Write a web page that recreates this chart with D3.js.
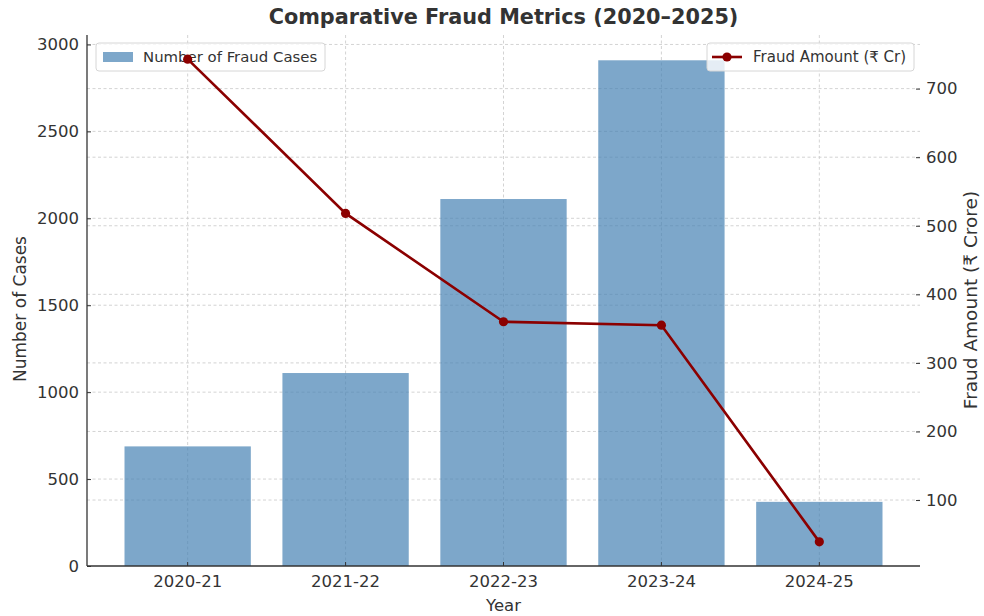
<!DOCTYPE html>
<html>
<head>
<meta charset="utf-8">
<script src="https://d3js.org/d3.v7.min.js"></script>
<style>
  body { margin: 0; background: #fff; }
  text { font-family: "DejaVu Sans", sans-serif; }
</style>
</head>
<body>
<svg id="chart" width="984" height="616"></svg>
<script>
// data
const years = ["2020-21", "2021-22", "2022-23", "2023-24", "2024-25"];
const fraudCases = [688, 1110, 2111, 2909, 369];
const fraudAmount = [743, 518, 360, 355, 39];
const caseTicks = [0, 500, 1000, 1500, 2000, 2500, 3000];
const amountTicks = [100, 200, 300, 400, 500, 600, 700];

const plotLeft = 87, plotRight = 920, plotTop = 35, plotBottom = 566;
const ink = "#333";

const svg = d3.select("#chart");

const x = d3.scaleBand()
  .domain(years)
  .range([plotLeft, plotRight])
  .paddingInner(0.2)
  .paddingOuter(0.2375);

// autoscaled like matplotlib: bars from 0 with 5% headroom, line with 5% margins
const yCases = d3.scaleLinear()
  .domain([0, d3.max(fraudCases) * 1.05])
  .range([plotBottom, plotTop]);

const amtMin = d3.min(fraudAmount), amtMax = d3.max(fraudAmount);
const amtPad = (amtMax - amtMin) * 0.05;
const yAmount = d3.scaleLinear()
  .domain([amtMin - amtPad, amtMax + amtPad])
  .range([plotBottom, plotTop]);

// grid lines (dashed, light grey)
const grid = svg.append("g")
  .attr("stroke", "#c8c8c8")
  .attr("stroke-width", 0.8)
  .attr("stroke-dasharray", "3,2.5");

grid.selectAll(".gx").data(years).join("line")
  .attr("x1", d => x(d) + x.bandwidth() / 2)
  .attr("x2", d => x(d) + x.bandwidth() / 2)
  .attr("y1", plotTop).attr("y2", plotBottom);

grid.selectAll(".gy1").data(caseTicks.filter(d => d > 0)).join("line")
  .attr("x1", plotLeft).attr("x2", plotRight)
  .attr("y1", d => yCases(d)).attr("y2", d => yCases(d));

grid.selectAll(".gy2").data(amountTicks).join("line")
  .attr("x1", plotLeft).attr("x2", plotRight)
  .attr("y1", d => yAmount(d)).attr("y2", d => yAmount(d));

// bars
svg.append("g").selectAll("rect").data(fraudCases).join("rect")
  .attr("x", (d, i) => x(years[i]))
  .attr("width", x.bandwidth())
  .attr("y", d => yCases(d))
  .attr("height", d => plotBottom - yCases(d))
  .attr("fill", "steelblue")
  .attr("fill-opacity", 0.7);

// axes
const fontSize = "16.5px";

const axLeft = svg.append("g")
  .attr("transform", `translate(${plotLeft},0)`)
  .call(d3.axisLeft(yCases).tickValues(caseTicks).tickSize(-4).tickPadding(8).tickFormat(d3.format("d")));

const axRight = svg.append("g")
  .attr("transform", `translate(${plotRight},0)`)
  .call(d3.axisRight(yAmount).tickValues(amountTicks).tickSize(-4).tickPadding(6).tickFormat(d3.format("d")));
axRight.select(".domain").remove();

const axBottom = svg.append("g")
  .attr("transform", `translate(0,${plotBottom})`)
  .call(d3.axisBottom(x).tickSize(-4).tickPadding(9));

[axLeft, axRight, axBottom].forEach(ax => {
  ax.selectAll("text")
    .attr("font-family", "DejaVu Sans")
    .attr("font-size", fontSize)
    .attr("fill", ink);
  ax.selectAll("line").attr("stroke", ink).attr("stroke-width", 1);
  ax.select(".domain").attr("stroke", ink).attr("stroke-width", 1.3);
});
axLeft.select(".domain").attr("d", `M0,${plotTop}V${plotBottom}`);
axBottom.select(".domain").attr("d", `M${plotLeft},0H${plotRight}`);

// left legend (under the line, like the reference)
const lg1 = svg.append("g").attr("transform", "translate(96,43)");
lg1.append("rect")
  .attr("width", 229).attr("height", 28).attr("rx", 3)
  .attr("fill", "#fff").attr("fill-opacity", 0.8)
  .attr("stroke", "#d6d6d6");
lg1.append("rect")
  .attr("x", 7).attr("y", 9).attr("width", 30).attr("height", 10)
  .attr("fill", "steelblue").attr("fill-opacity", 0.7);
lg1.append("text")
  .attr("x", 47).attr("y", 19)
  .attr("font-size", "14.9px").attr("fill", ink)
  .text("Number of Fraud Cases");

// fraud amount line
const line = d3.line()
  .x((d, i) => x(years[i]) + x.bandwidth() / 2)
  .y(d => yAmount(d));

svg.append("path")
  .datum(fraudAmount)
  .attr("d", line)
  .attr("fill", "none")
  .attr("stroke", "#8b0000")
  .attr("stroke-width", 2.6);

svg.append("g").selectAll("circle").data(fraudAmount).join("circle")
  .attr("cx", (d, i) => x(years[i]) + x.bandwidth() / 2)
  .attr("cy", d => yAmount(d))
  .attr("r", 4.6)
  .attr("fill", "#8b0000");

// right legend
const lg2 = svg.append("g").attr("transform", "translate(707,43)");
lg2.append("rect")
  .attr("width", 207).attr("height", 28).attr("rx", 3)
  .attr("fill", "#fff").attr("fill-opacity", 0.8)
  .attr("stroke", "#d6d6d6");
lg2.append("line")
  .attr("x1", 5).attr("x2", 35).attr("y1", 14).attr("y2", 14)
  .attr("stroke", "#8b0000").attr("stroke-width", 2.6);
lg2.append("circle")
  .attr("cx", 20).attr("cy", 14).attr("r", 4.6).attr("fill", "#8b0000");
lg2.append("text")
  .attr("x", 46).attr("y", 19)
  .attr("font-size", "15px").attr("fill", ink)
  .text("Fraud Amount (₹ Cr)");

// title and axis labels
svg.append("text")
  .attr("x", (plotLeft + plotRight) / 2).attr("y", 24)
  .attr("text-anchor", "middle")
  .attr("font-size", "20.8px").attr("font-weight", "bold").attr("fill", ink)
  .text("Comparative Fraud Metrics (2020–2025)");

svg.append("text")
  .attr("x", (plotLeft + plotRight) / 2).attr("y", 611)
  .attr("text-anchor", "middle")
  .attr("font-size", fontSize).attr("fill", ink)
  .text("Year");

svg.append("text")
  .attr("transform", "translate(26,309) rotate(-90)")
  .attr("text-anchor", "middle")
  .attr("font-size", "17px").attr("fill", ink)
  .text("Number of Cases");

svg.append("text")
  .attr("transform", "translate(977,300) rotate(-90)")
  .attr("text-anchor", "middle")
  .attr("font-size", "18.5px").attr("fill", ink)
  .text("Fraud Amount (₹ Crore)");
</script>
</body>
</html>
